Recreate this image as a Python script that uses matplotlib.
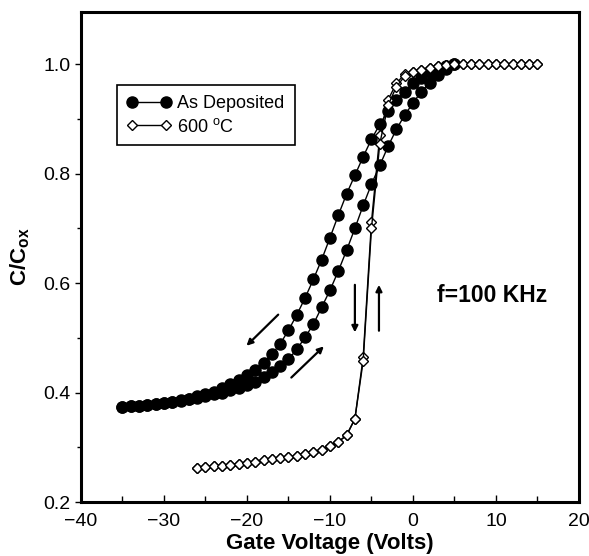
import matplotlib
matplotlib.use('Agg')
import matplotlib.pyplot as plt
import numpy as np
from matplotlib.ticker import MultipleLocator

plt.rcParams['font.family'] = ['Liberation Sans', 'DejaVu Sans']
plt.rcParams['mathtext.fontset'] = 'custom'
plt.rcParams['mathtext.rm'] = 'Liberation Sans'
plt.rcParams['mathtext.bf'] = 'Liberation Sans:bold'

# As deposited: sweep down (left branch) then sweep up (right branch)
v_down = [5, 4, 3, 2, 1, 0, -1, -2, -3, -4, -5, -6, -7, -8, -9, -10, -11, -12,
          -13, -14, -15, -16, -17, -18, -19, -20, -21, -22, -23, -24, -25,
          -26, -27, -28, -29, -30, -31, -32, -33, -34, -35]
c_down = [1.0, 0.997, 0.992, 0.985, 0.975, 0.965, 0.95, 0.935, 0.915, 0.89,
          0.863, 0.831, 0.797, 0.763, 0.724, 0.683, 0.643, 0.607, 0.573, 0.542,
          0.514, 0.489, 0.470, 0.455, 0.442, 0.432, 0.423, 0.415, 0.408, 0.402,
          0.397, 0.393, 0.389, 0.386, 0.383, 0.381, 0.379, 0.378, 0.376, 0.375,
          0.374]
v_up = [-35, -34, -33, -32, -31, -30, -29, -28, -27, -26, -25, -24, -23, -22,
        -21, -20, -19, -18, -17, -16, -15, -14, -13, -12, -11, -10, -9, -8,
        -7, -6, -5, -4, -3, -2, -1, 0, 1, 2, 3, 4, 5]
c_up = [0.374, 0.375, 0.376, 0.377, 0.379, 0.381, 0.383, 0.385, 0.388, 0.391,
        0.394, 0.397, 0.400, 0.404, 0.408, 0.413, 0.420, 0.428, 0.438, 0.449,
        0.461, 0.479, 0.501, 0.525, 0.556, 0.587, 0.622, 0.660, 0.700, 0.742,
        0.781, 0.815, 0.850, 0.881, 0.907, 0.929, 0.950, 0.966, 0.980, 0.991,
        1.0]

# 600 C anneal: sweep up then back down
v600_up = [-26, -25, -24, -23, -22, -21, -20, -19, -18, -17, -16, -15, -14,
           -13, -12, -11, -10, -9, -8, -7, -6, -5, -4, -3, -2, -1, 0, 1, 2,
           3, 4, 5, 6, 7, 8, 9, 10, 11, 12, 13, 14, 15]
c600_up = [0.263, 0.264, 0.265, 0.266, 0.268, 0.270, 0.272, 0.274, 0.276,
           0.278, 0.280, 0.282, 0.284, 0.287, 0.291, 0.296, 0.302, 0.310,
           0.322, 0.352, 0.458, 0.700, 0.855, 0.925, 0.959, 0.978, 0.985,
           0.990, 0.994, 0.997, 0.999, 1.0, 1.0, 1.0, 1.0, 1.0, 1.0, 1.0,
           1.0, 1.0, 1.0, 1.0]
v600_dn = [15, 14, 13, 12, 11, 10, 9, 8, 7, 6, 5, 4, 3, 2, 1, 0, -1, -2, -3,
           -4, -5, -6, -7, -8, -9, -10, -11, -12, -13, -14, -15, -16, -17,
           -18, -19, -20, -21, -22, -23, -24, -25, -26]
c600_dn = [1.0, 1.0, 1.0, 1.0, 1.0, 1.0, 1.0, 1.0, 1.0, 1.0, 1.0, 0.998,
           0.996, 0.993, 0.990, 0.986, 0.982, 0.965, 0.935, 0.870, 0.712,
           0.465, 0.352, 0.322, 0.310, 0.302, 0.296, 0.291, 0.287, 0.284,
           0.282, 0.280, 0.278, 0.276, 0.274, 0.272, 0.270, 0.268, 0.266,
           0.265, 0.264, 0.263]

fig = plt.figure(figsize=(5.89, 5.56), dpi=100)
ax = fig.add_axes([0.1375, 0.097, 0.8455, 0.881])

ax.plot(v_down, c_down, 'k-o', lw=1, ms=8, label='As Deposited')
ax.plot(v_up, c_up, 'k-o', lw=1, ms=8)
ax.plot(v600_dn, c600_dn, 'k-D', lw=1, ms=5.5, mfc='white', mew=1)
ax.plot(v600_up, c600_up, 'k-D', lw=1, ms=5.5, mfc='white', mew=1,
        label='600 $^\\mathregular{o}$C')

arr = dict(arrowstyle='-|>', lw=1.6, color='k', mutation_scale=9)
ax.annotate('', xy=(-20.3, 0.482), xytext=(-16.0, 0.546), arrowprops=arr)
ax.annotate('', xy=(-10.5, 0.488), xytext=(-14.9, 0.424), arrowprops=arr)
ax.annotate('', xy=(-7.0, 0.505), xytext=(-7.0, 0.602), arrowprops=arr)
ax.annotate('', xy=(-4.1, 0.602), xytext=(-4.1, 0.508), arrowprops=arr)

ax.text(2.9, 0.578, 'f=100 KHz', fontsize=16.5, fontweight='bold', va='center')

ax.set_xlim(-40, 20)
ax.set_ylim(0.2, 1.095)
ax.xaxis.set_major_locator(MultipleLocator(10))
ax.xaxis.set_minor_locator(MultipleLocator(5))
ax.yaxis.set_major_locator(MultipleLocator(0.2))
ax.yaxis.set_minor_locator(MultipleLocator(0.1))
ax.tick_params(axis='x', which='both', direction='in', labelsize=14, pad=8)
ax.tick_params(axis='x', which='major', length=5, width=1)
ax.tick_params(axis='x', which='minor', length=4, width=1)
ax.tick_params(axis='y', which='both', direction='out', labelsize=14)
ax.tick_params(axis='y', which='major', length=4, width=1)
ax.tick_params(axis='y', which='minor', length=3, width=1)
ax.yaxis.set_major_formatter(plt.FormatStrFormatter('%.1f'))
for s in ax.spines.values():
    s.set_linewidth(2.2)

ax.set_xlabel('Gate Voltage (Volts)', fontsize=16, fontweight='bold', labelpad=2)
ax.set_ylabel(r'$\mathbf{C/C_{ox}}$', fontsize=16, labelpad=8)

leg = ax.legend(loc='upper left', bbox_to_anchor=(0.072, 0.851), numpoints=2,
                fontsize=13, handlelength=2.5, fancybox=False, edgecolor='k',
                framealpha=1, borderpad=0.55, labelspacing=0.3,
                handletextpad=0.3, borderaxespad=0, markerscale=1.0)
leg.get_frame().set_linewidth(1.2)

plt.savefig('out.png', dpi=100)
